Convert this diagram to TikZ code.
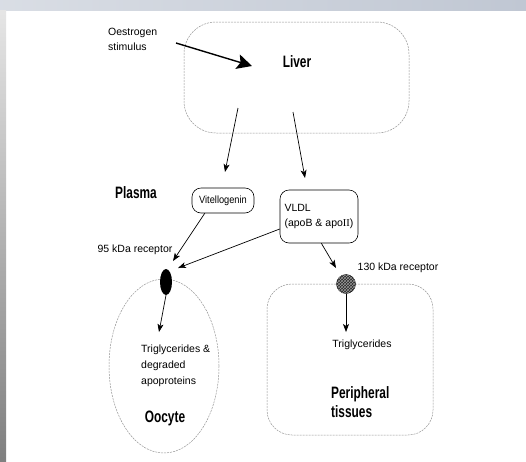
\documentclass[tikz,border=0pt]{standalone}
\usepackage{fontspec}
\setmainfont{Liberation Sans}
\newfontfamily\headfont[FakeStretch=0.72]{Liberation Sans}
\newfontfamily\narrowfont[FakeStretch=0.88]{Liberation Sans}
\newfontfamily\romfont{Liberation Serif}
\usetikzlibrary{shapes.geometric,arrows.meta,patterns}

\definecolor{frameblue}{RGB}{192,199,211}
\definecolor{compgray}{RGB}{150,150,150}

\tikzset{
    plain/.style={font=\fontsize{10.5}{15.5}\selectfont, align=left, inner sep=0pt},
    head/.style={font=\headfont\bfseries\fontsize{16.5}{19}\selectfont, align=left, inner sep=0pt},
    compartment/.style={draw=compgray, line width=0.5pt, dash pattern=on 2pt off 1pt},
    carrier/.style={draw, line width=0.6pt, rounded corners=9pt, inner sep=0pt},
    flow/.style={-{Stealth[length=8pt,width=6pt,inset=2pt]}, line width=0.7pt},
}

\begin{document}
\begin{tikzpicture}[x=1pt,y=-1pt]
    % page and scanned frame
    \useasboundingbox (0,0) rectangle (526,461);
    \fill[white] (0,0) rectangle (526,461);
    \shade[left color=frameblue!60, right color=frameblue] (0,0) rectangle (526,10);
    \shade[top color=black!10, bottom color=black!50] (0,10) rectangle (6,461);

    % compartments
    \node[compartment, rounded corners=32pt, minimum width=225pt, minimum height=111pt] (liver) at (296.5,77.5) {};
    \node[compartment, ellipse, minimum width=110pt, minimum height=174pt] (oocyte) at (164,366) {};
    \node[compartment, rounded corners=25pt, minimum width=166pt, minimum height=151pt] (periph) at (350,359.5) {};

    % labels
    \node[head] (liverlbl) at (297,62) {Liver};
    \node[head] (plasma) at (136,193) {Plasma};
    \node[head] (oocytelbl) at (165,418) {Oocyte};
    \node[head, anchor=west] (periphlbl) at (331,402.5) {Peripheral\\tissues};
    \node[plain, anchor=west] (stim) at (108,39.5) {Oestrogen\\stimulus};
    \node[plain] (rec95lbl) at (135,250) {95 kDa receptor};
    \node[plain] (rec130lbl) at (398,268) {130 kDa receptor};
    \node[plain, anchor=west, font=\fontsize{10.5}{16}\selectfont] (tgo) at (141,366) {Triglycerides \&\\degraded\\apoproteins};
    \node[plain] (tgp) at (362,345) {Triglycerides};

    % lipoprotein carriers
    \node[carrier, minimum width=62pt, minimum height=25pt, plain, font=\narrowfont\fontsize{10.5}{12}\selectfont] (vitel) at (223,200.5) {Vitellogenin};
    \node[carrier, minimum width=78pt, minimum height=53pt, plain] (vldl) at (319,216.5) {VLDL\\(apoB \& apo{\romfont II})};

    % receptors
    \node[ellipse, fill=black, minimum width=12pt, minimum height=26pt, inner sep=0pt] (rec95) at (166,282) {};
    \node[circle, fill=black!85, draw=black, minimum size=19pt, inner sep=0pt,
          postaction={pattern=crosshatch, pattern color=black!40}] (rec130) at (346,284) {};

    % arrow ends
    \coordinate (st0) at (176,43);
    \coordinate (st1) at (252,66);
    \coordinate (lv0) at (238,108);
    \coordinate (lv1) at (225,172);
    \coordinate (lv2) at (293,112);
    \coordinate (lv3) at (305,178);
    \coordinate (r95a) at (173,261);
    \coordinate (r95b) at (178,268);
    \coordinate (r130a) at (336,268);
    \coordinate (tgotip) at (159,332);
    \coordinate (tgptip) at (346,332);

    % arrows
    \draw[-{Stealth[length=15pt,width=15pt,inset=3pt]}, line width=1.4pt] (st0) -- (st1);
    \draw[flow] (lv0) -- (lv1);
    \draw[flow] (lv2) -- (lv3);
    \draw[flow] (vitel.215) -- (r95a);
    \draw[flow] (vldl.west |- 0,229) -- (r95b);
    \draw[flow] (vldl.-85) -- (r130a);
    \draw[flow] (rec95.south) -- (tgotip);
    \draw[flow] (rec130.south) -- (tgptip);
\end{tikzpicture}
\end{document}
